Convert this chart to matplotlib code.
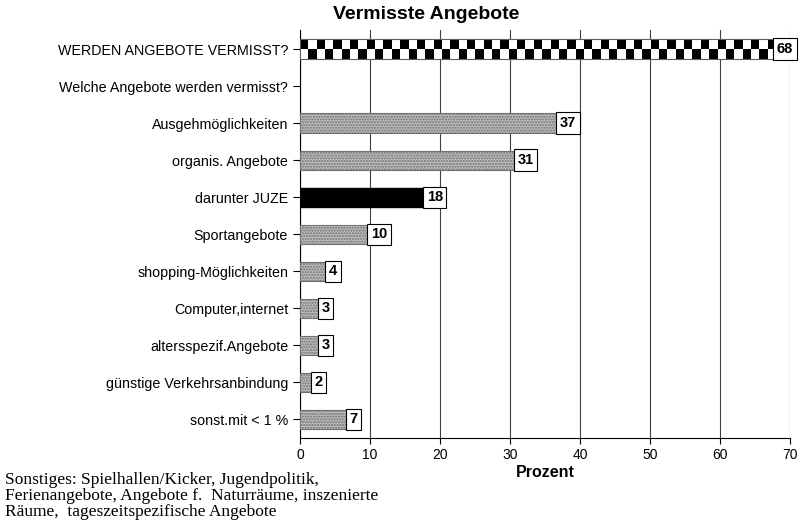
import numpy as np
import matplotlib.pyplot as plt

plt.rcParams['font.family'] = ['Liberation Sans', 'DejaVu Sans']

labels = [
    "WERDEN ANGEBOTE VERMISST?",
    "Welche Angebote werden vermisst?",
    "Ausgehmöglichkeiten",
    "organis. Angebote",
    "darunter JUZE",
    "Sportangebote",
    "shopping-Möglichkeiten",
    "Computer,internet",
    "altersspezif.Angebote",
    "günstige Verkehrsanbindung",
    "sonst.mit < 1 %",
]
values = [68, None, 37, 31, 18, 10, 4, 3, 3, 2, 7]
styles = ["checker", None, "gray", "gray", "black", "gray", "gray", "gray", "gray", "gray", "gray"]

fig = plt.figure(figsize=(8.01, 5.22), dpi=100)
ax = fig.add_axes([0.3745, 0.161, 0.6117, 0.7806])

h = 0.52
y = np.arange(len(labels))
for i, (v, s) in enumerate(zip(values, styles)):
    if v is None:
        continue
    if s == "gray":
        ax.barh(i, v, height=h, color="#bcbcbc", edgecolor="#707070",
                hatch="......", linewidth=0.8, zorder=3)
    elif s == "black":
        ax.barh(i, v, height=h, color="black", edgecolor="black", zorder=3)
    else:
        # checkered bar
        ncol = 57
        pat = np.indices((2, ncol)).sum(axis=0) % 2
        ax.imshow(pat, cmap="gray", extent=(0, v, i + h / 2, i - h / 2),
                  aspect="auto", interpolation="nearest", zorder=3)
        ax.barh(i, v, height=h, fill=False, edgecolor="#606060",
                linewidth=0.8, zorder=4)
    ax.text(v + 0.1, i, str(v), ha="left", va="center", fontsize=10.5,
            fontweight="bold", zorder=5,
            bbox=dict(boxstyle="square,pad=0.25", fc="white", ec="black", lw=0.8))

ax.set_yticks(y)
ax.set_yticklabels(labels, fontsize=10.3)
ax.set_ylim(len(labels) - 0.5, -0.5)
ax.set_xlim(0, 70)
ax.set_xticks(range(0, 71, 10))
ax.tick_params(axis="x", labelsize=10, length=4)
ax.tick_params(axis="y", length=5)
ax.grid(axis="x", color="#404040", linewidth=0.8, zorder=0)
ax.spines["top"].set_visible(False)
ax.spines["right"].set_visible(False)
ax.set_xlabel("Prozent", fontsize=11.5, fontweight="bold", labelpad=2)

fig.text(0.532, 0.972, "Vermisste Angebote", fontsize=14, fontweight="bold",
         ha="center", va="center")

fig.text(0.006, 0.05,
         "Sonstiges: Spielhallen/Kicker, Jugendpolitik,\n"
         "Ferienangebote, Angebote f.  Naturräume, inszenierte\n"
         "Räume,  tageszeitspezifische Angebote",
         family="Liberation Serif", fontsize=12.5, va="center", linespacing=1.0)

fig.savefig("out.png", dpi=100)
